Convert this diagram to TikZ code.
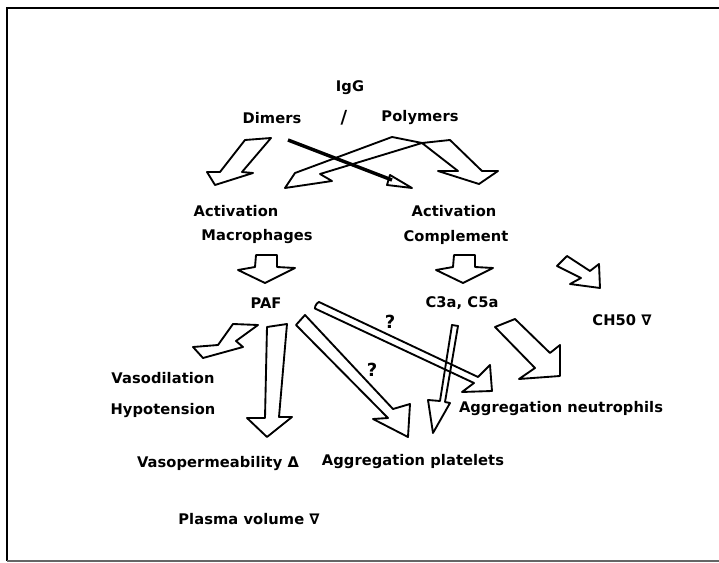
\documentclass[tikz,border=0pt]{standalone}
\usepackage{fontspec}
\newfontfamily\lblfont[LetterSpace=0.5]{DejaVu Sans}
\begin{document}
\begin{tikzpicture}[x=0.75pt,y=-0.75pt,
  lbl/.style={font=\lblfont\bfseries\fontsize{11}{12}\selectfont, inner sep=0pt, anchor=center},
  qm/.style={font=\lblfont\bfseries\fontsize{13.5}{14}\selectfont, inner sep=0pt, anchor=center},
  blk/.style={draw, line width=1.4pt, line join=round},
  frm/.style={draw, line width=1.2pt}]
\useasboundingbox (0,0) rectangle (719,563);
% frame
\draw[frm] (7,561) -- (7,8) -- (719,8);
\draw[line width=0.8pt, black!60] (7,561) -- (719,561);
% labels
\node[lbl] (igg) at (350,88) {IgG};
\node[qm] (slash) at (344,118) {/};
\node[lbl] (dimers) at (272,118) {Dimers};
\node[lbl] (polymers) at (420,118) {Polymers};
\node[lbl] (actm) at (236,211) {Activation};
\node[lbl] (macro) at (257,237) {Macrophages};
\node[lbl] (actc) at (454,211) {Activation};
\node[lbl] (compl) at (456,237) {Complement};
\node[lbl] (paf) at (266,303) {PAF};
\node[lbl] (c3a) at (462,303) {C3a, C5a};
\node[lbl] (ch50) at (622,320) {CH50 ∇};
\node[lbl] (vasod) at (163,378) {Vasodilation};
\node[lbl] (hypo) at (163,411) {Hypotension};
\node[lbl] (vasop) at (218,464) {Vasopermeability Δ};
\node[lbl] (plat) at (413,462) {Aggregation platelets};
\node[lbl] (neut) at (561,409) {Aggregation neutrophils};
\node[lbl] (plasma) at (249,519) {Plasma volume ∇};
\node[qm] (q1) at (390,322) {?};
\node[qm] (q2) at (372,370) {?};
% Dimers -> Macrophages
\draw[blk] (245,140) -- (271,138) -- (242,172) -- (253,173) -- (215,185) -- (207,172) -- (220,172) -- cycle;
% Dimers -> Complement (thick line)
\draw[line width=2.6pt] (288,140) -- (392,180);
\draw[blk] (390,175) -- (412,188) -- (387,185) -- cycle;
% Polymers -> Macrophages
\draw[blk] (392,137) -- (422,143) -- (320,174) -- (332,181) -- (285,188) -- (295,173) -- cycle;
% Polymers -> Complement
\draw[blk] (422,143) -- (450,140) -- (482,171) -- (498,171) -- (479,184) -- (438,171) -- (458,171) -- cycle;
% Macrophages -> PAF
\draw[blk] (256,255) -- (277,255) -- (277,267) -- (295,268) -- (265,283) -- (238,270) -- (255,267) -- cycle;
% Complement -> C3a
\draw[blk] (454,255) -- (475,255) -- (475,267) -- (493,268) -- (463,283) -- (436,270) -- (453,267) -- cycle;
% Complement -> CH50
\draw[blk] (557,266) -- (567,256) -- (590,271) -- (599,264) -- (600,288) -- (570,284) -- (581,278) -- cycle;
% PAF -> Vasodilation
\draw[blk] (233,324) -- (258,325) -- (236,341) -- (243,347) -- (203,358) -- (193,347) -- (218,345) -- cycle;
% PAF -> Vasopermeability
\draw[blk] (267,327) -- (287,324) -- (279,417) -- (292,417) -- (267,437) -- (247,418) -- (265,418) -- cycle;
% PAF -> Aggregation platelets
\draw[blk] (305,315) -- (393,409) -- (410,404) -- (408,437) -- (373,419) -- (388,418) -- (296,325) -- cycle;
% PAF -> Aggregation neutrophils
\draw[blk] (319,302) -- (478,377) -- (490,365) -- (492,391) -- (462,392) -- (474,383) -- (316,309) to[out=200,in=190] cycle;
% C3a -> Aggregation platelets
\draw[blk] (452,325) -- (458,326) -- (445,402) -- (450,403) -- (433,433) -- (428,400) -- (440,401) -- cycle;
% C3a -> Aggregation neutrophils
\draw[blk] (495,327) -- (515,319) -- (550,353) -- (560,345) -- (560,376) -- (519,379) -- (535,368) -- cycle;
\end{tikzpicture}
\end{document}
